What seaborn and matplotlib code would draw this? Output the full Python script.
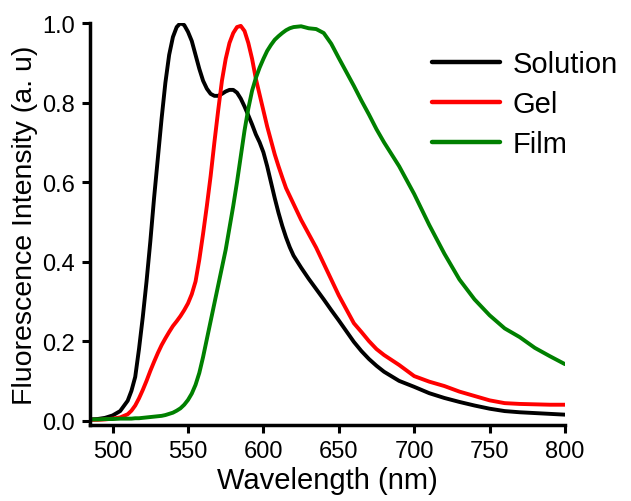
import numpy as np
import pandas as pd
import matplotlib
matplotlib.use("Agg")
import matplotlib.pyplot as plt
import seaborn as sns

wavelength = [485, 490, 495, 500, 505, 510, 512.5, 515, 517.5, 520, 522.5, 525, 527.5,
              530, 532.5, 535, 537.5, 540, 542.5, 545, 547.5, 550, 552.5, 555, 557.5,
              560, 562.5, 565, 567.5, 570, 572.5, 575, 577.5, 580, 582.5, 585, 587.5,
              590, 592.5, 595, 597.5, 600, 602.5, 605, 607.5, 610, 612.5, 615, 617.5,
              620, 625, 630, 635, 640, 645, 650, 655, 660, 665, 670, 675, 680, 690,
              700, 710, 720, 730, 740, 750, 760, 770, 780, 790, 800]

solution = [0.003, 0.004, 0.007, 0.013, 0.024, 0.05, 0.075, 0.11, 0.18, 0.26, 0.35, 0.45,
            0.56, 0.66, 0.76, 0.85, 0.92, 0.965, 0.99, 1.0, 0.995, 0.978, 0.955, 0.92,
            0.885, 0.855, 0.835, 0.822, 0.817, 0.817, 0.822, 0.828, 0.832, 0.832, 0.825,
            0.81, 0.79, 0.768, 0.745, 0.72, 0.7, 0.675, 0.64, 0.6, 0.56, 0.523, 0.49,
            0.461, 0.436, 0.415, 0.385, 0.357, 0.331, 0.305, 0.278, 0.252, 0.225, 0.198,
            0.175, 0.155, 0.138, 0.123, 0.1, 0.085, 0.069, 0.057, 0.047, 0.038, 0.03,
            0.024, 0.021, 0.019, 0.017, 0.015]

gel = [0.002, 0.002, 0.003, 0.005, 0.008, 0.016, 0.025, 0.038, 0.056, 0.077, 0.1, 0.125,
       0.148, 0.17, 0.19, 0.207, 0.223, 0.238, 0.25, 0.263, 0.278, 0.295, 0.318, 0.35,
       0.405, 0.47, 0.54, 0.615, 0.7, 0.78, 0.855, 0.91, 0.95, 0.975, 0.99, 0.993, 0.98,
       0.95, 0.91, 0.86, 0.82, 0.78, 0.74, 0.705, 0.67, 0.64, 0.612, 0.585, 0.565, 0.545,
       0.505, 0.47, 0.435, 0.395, 0.355, 0.315, 0.28, 0.245, 0.223, 0.2, 0.18, 0.165,
       0.14, 0.112, 0.098, 0.087, 0.073, 0.062, 0.051, 0.044, 0.042, 0.041, 0.04, 0.04]

film = [0.003, 0.003, 0.004, 0.004, 0.005, 0.005, 0.005, 0.006, 0.006, 0.007, 0.008, 0.009,
        0.01, 0.011, 0.012, 0.014, 0.017, 0.02, 0.025, 0.031, 0.04, 0.052, 0.068, 0.09,
        0.12, 0.16, 0.205, 0.25, 0.295, 0.34, 0.385, 0.43, 0.485, 0.54, 0.6, 0.665, 0.73,
        0.785, 0.83, 0.862, 0.888, 0.91, 0.93, 0.945, 0.958, 0.967, 0.975, 0.982, 0.987,
        0.99, 0.992, 0.987, 0.985, 0.975, 0.948, 0.912, 0.877, 0.842, 0.805, 0.77, 0.733,
        0.7, 0.64, 0.57, 0.492, 0.42, 0.355, 0.305, 0.265, 0.232, 0.21, 0.183, 0.162, 0.142]

series_names = ["Solution", "Gel", "Film"]
series_colors = ["#000000", "#ff0000", "#008000"]

df = pd.concat([
    pd.DataFrame({"Wavelength": wavelength, "Intensity": vals, "Sample": name})
    for name, vals in zip(series_names, [solution, gel, film])
], ignore_index=True)

sns.set_theme(style="ticks")
plt.rcParams["font.family"] = ["Liberation Sans", "DejaVu Sans"]
plt.rcParams["text.color"] = "black"
plt.rcParams["axes.labelcolor"] = "black"

fig = plt.figure(figsize=(6.31, 5.02), dpi=100)
ax = fig.add_axes([0.1426, 0.1514, 0.7528, 0.8006])

sns.lineplot(data=df, x="Wavelength", y="Intensity", hue="Sample",
             hue_order=series_names, palette=series_colors, linewidth=2.8,
             ax=ax, legend=True)

ax.set_xlim(485, 800)
ax.set_ylim(-0.011, 1.0)
ax.set_xticks([500, 550, 600, 650, 700, 750, 800])
ax.set_yticks([0.0, 0.2, 0.4, 0.6, 0.8, 1.0])
ax.set_yticklabels(["0.0", "0.2", "0.4", "0.6", "0.8", "1.0"])
ax.tick_params(axis="both", direction="out", length=6, width=2.2, labelsize=17,
               colors="black", labelcolor="black", pad=5)
for side in ["left", "bottom"]:
    ax.spines[side].set_linewidth(2.5)
    ax.spines[side].set_color("black")
sns.despine(ax=ax)

ax.set_xlabel("Wavelength (nm)", fontsize=21, labelpad=3, color="black")
ax.set_ylabel("Fluorescence Intensity (a. u)", fontsize=20.5, labelpad=3, color="black")

leg = ax.legend(loc="upper left", bbox_to_anchor=(0.72, 0.932), frameon=False,
                fontsize=21, handlelength=2.33, handletextpad=0.42, labelspacing=0.4,
                borderaxespad=0, borderpad=0)
for line in leg.get_lines():
    line.set_linewidth(3.2)
for t in leg.get_texts():
    t.set_color("black")

fig.savefig("out.png", dpi=100)
